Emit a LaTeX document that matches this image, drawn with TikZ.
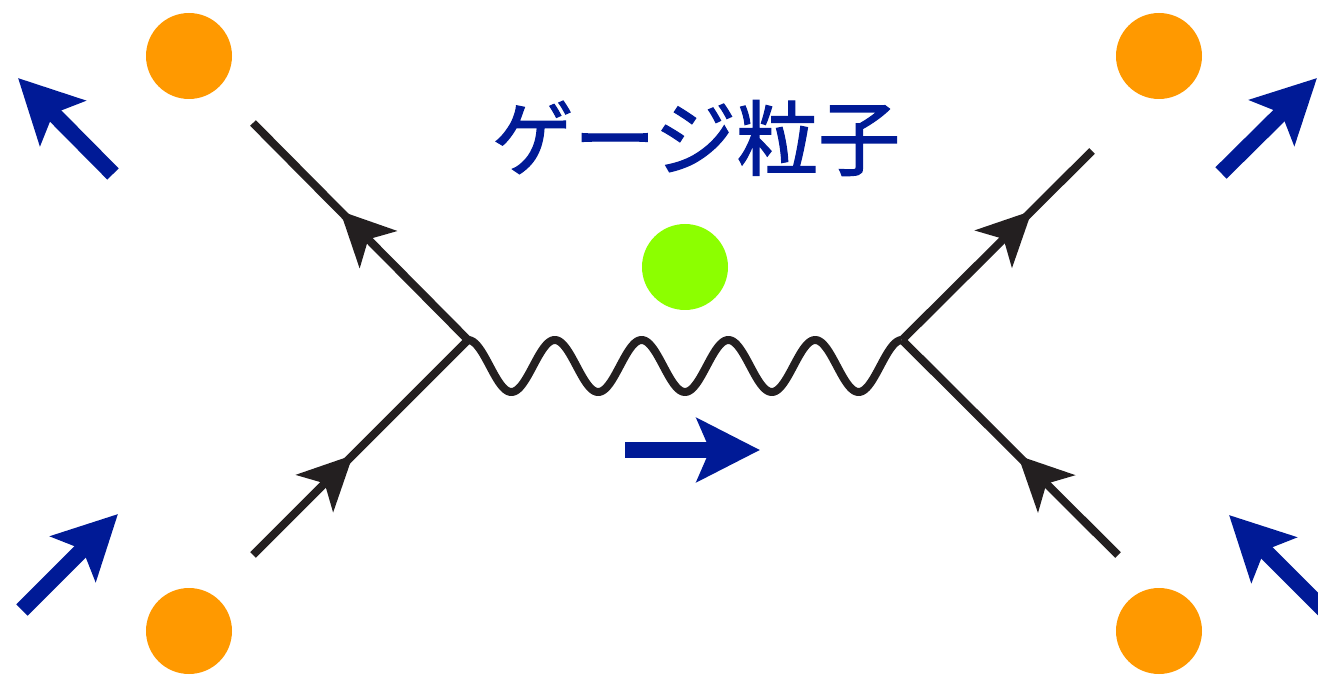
\documentclass[tikz,border=0pt]{standalone}
\usepackage{fontspec}
\newfontfamily\cjk[FakeBold=1.4]{Noto Sans CJK JP}
\usetikzlibrary{arrows.meta,decorations.markings}
\definecolor{dblue}{RGB}{0,26,150}
\definecolor{dorange}{RGB}{255,153,0}
\definecolor{dgreen}{RGB}{140,255,0}
\definecolor{dblack}{RGB}{35,31,32}
\tikzset{
  dot/.style={circle, minimum size=86pt, inner sep=0pt, draw=none},
  fermion/.style={draw=dblack, line width=8pt, line cap=butt},
  ftip/.style={postaction={decorate}, decoration={markings,
     mark=at position #1 with {\arrow[dblack]{Stealth[length=54pt,width=52pt,inset=14pt]}}}},
  bluearrow/.style={draw=dblue, line width=16pt, -{Stealth[length=63pt,width=63pt,inset=13pt]}},
}
\begin{document}
\begin{tikzpicture}[x=1pt,y=-1pt]
\useasboundingbox (0,0) rectangle (1318,676);
\clip (0,0) rectangle (1318,676);
% dots
\node[dot, fill=dorange] (otl) at (189,56) {};
\node[dot, fill=dorange] (otr) at (1159,56) {};
\node[dot, fill=dorange] (obl) at (189,631) {};
\node[dot, fill=dorange] (obr) at (1159,631) {};
\node[dot, fill=dgreen] (g) at (685,267) {};
% label
\node[text=dblue, inner sep=0pt, font=\cjk\fontsize{82}{90}\selectfont] (lab) at (696,138) {ゲージ粒子};
% vertices and line ends
\coordinate (vL) at (468,340);
\coordinate (vR) at (902,340);
\coordinate (eTL) at (253,123);
\coordinate (eBL) at (253,555);
\coordinate (eTR) at (1092,151);
\coordinate (eBR) at (1118,555);
% fermion lines
\draw[fermion, ftip=0.595] (vL) -- (eTL);
\draw[fermion, ftip=0.465] (eBL) -- (vL);
\draw[fermion, ftip=0.684] (vR) -- (eTR);
\draw[fermion, ftip=0.463] (eBR) -- (vR);
% gauge boson wave
\draw[draw=dblack, line width=8pt, line join=round]
  plot[domain=0:5, samples=300, smooth] ({468+86.8*\x}, {366-26*cos(360*\x)});
% blue momentum arrows
\coordinate (aCt) at (625,450);   \coordinate (aCh) at (760,450);
\coordinate (aTLt) at (113,174);  \coordinate (aTLh) at (18,78);
\coordinate (aBLt) at (22,610);   \coordinate (aBLh) at (118,514);
\coordinate (aTRt) at (1221,173); \coordinate (aTRh) at (1317,78);
\coordinate (aBRt) at (1325,611); \coordinate (aBRh) at (1229,515);
\draw[bluearrow] (aCt) -- (aCh);
\draw[bluearrow] (aTLt) -- (aTLh);
\draw[bluearrow] (aBLt) -- (aBLh);
\draw[bluearrow] (aTRt) -- (aTRh);
\draw[bluearrow] (aBRt) -- (aBRh);
\end{tikzpicture}
\end{document}
